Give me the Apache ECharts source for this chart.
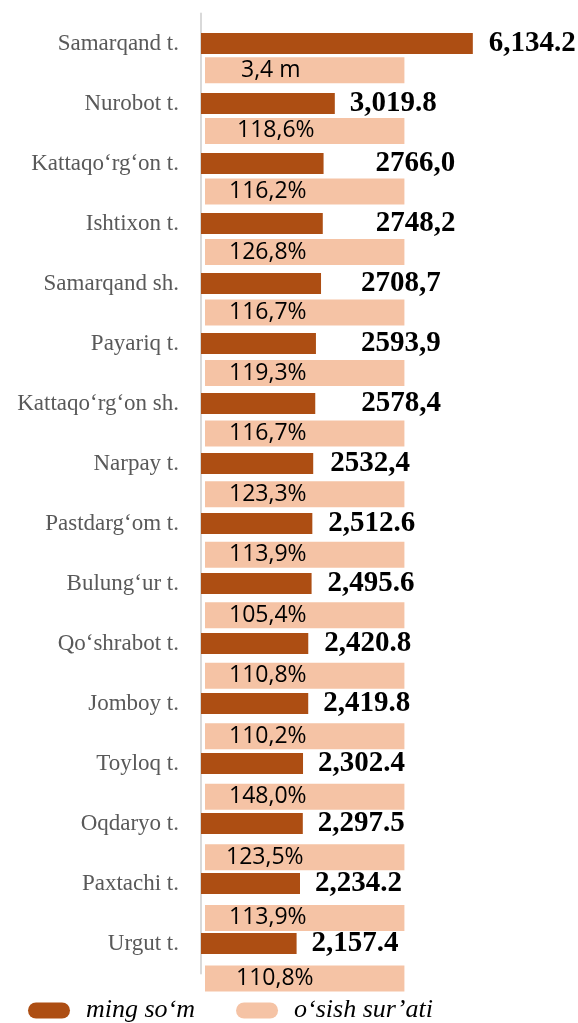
<!DOCTYPE html>
<html>
<head>
<meta charset="utf-8">
<script src="https://cdn.jsdelivr.net/npm/echarts@6/dist/echarts.min.js"></script>
<style>
  html, body { margin: 0; padding: 0; background: #fff; }
  #chart { width: 578px; height: 1023px; }
</style>
</head>
<body>
<div id="chart"></div>
<script>
const districts = [
  'Samarqand t.', 'Nurobot t.', 'Kattaqo‘rg‘on t.', 'Ishtixon t.', 'Samarqand sh.',
  'Payariq t.', 'Kattaqo‘rg‘on sh.', 'Narpay t.', 'Pastdarg‘om t.', 'Bulung‘ur t.',
  'Qo‘shrabot t.', 'Jomboy t.', 'Toyloq t.', 'Oqdaryo t.', 'Paxtachi t.', 'Urgut t.'
]
// ming so'm
const volume = [6134.2, 3019.8, 2766.0, 2748.2, 2708.7, 2593.9, 2578.4, 2532.4,
  2512.6, 2495.6, 2420.8, 2419.8, 2302.4, 2297.5, 2234.2, 2157.4]
const volumeText = ['6,134.2', '3,019.8', '2766,0', '2748,2', '2708,7', '2593,9', '2578,4', '2532,4',
  '2,512.6', '2,495.6', '2,420.8', '2,419.8', '2,302.4', '2,297.5', '2,234.2', '2,157.4']
// o'sish sur'ati (drawn as equal-length helper bars)
const rateBar = [4500, 4500, 4500, 4500, 4500, 4500, 4500, 4500,
  4500, 4500, 4500, 4500, 4500, 4500, 4500, 4500]
const rateText = ['3,4 m', '118,6%', '116,2%', '126,8%', '116,7%', '119,3%', '116,7%', '123,3%',
  '113,9%', '105,4%', '110,8%', '110,2%', '148,0%', '123,5%', '113,9%', '110,8%']

// label nudges, as placed in the original
const volumeGap = [16, 15, 52, 53, 40, 45, 46, 17, 16, 16, 16, 15, 15, 15, 15, 15]
const rateGap = [36, 32, 24, 24, 24, 24, 24, 24, 24, 24, 24, 24, 24, 21, 24, 31]

const DARK = '#ad4e13'
const LIGHT = '#f5c3a5'
const pill = 'path://M8,0 L34,0 A8,8 0 0 1 34,16 L8,16 A8,8 0 0 1 8,0 Z'

const chart = echarts.init(document.getElementById('chart'))

chart.setOption({
  animation: false,
  legend: {
    left: 23,
    top: 992.5,
    itemWidth: 42,
    itemHeight: 16,
    itemGap: 41,
    data: [
      { name: 'ming so‘m', icon: pill },
      { name: 'o‘sish sur’ati', icon: pill }
    ],
    textStyle: {
      fontFamily: 'Liberation Serif',
      fontStyle: 'italic',
      fontSize: 26,
      color: '#000',
      padding: [0, 0, 0, 11]
    }
  },
  grid: [
    { left: 201, top: 13.5, width: 354.5, height: 960 },
    { left: 205, top: 40.1, width: 354.5, height: 968.6 }
  ],
  xAxis: [
    { type: 'value', gridIndex: 0, min: 0, max: 8000, show: false },
    { type: 'value', gridIndex: 1, min: 0, max: 8000, show: false }
  ],
  yAxis: [
    {
      type: 'category',
      gridIndex: 0,
      data: districts,
      inverse: true,
      axisTick: { show: false },
      axisLine: { lineStyle: { color: '#d9d9d9', width: 2 } },
      axisLabel: {
        fontFamily: 'Liberation Serif',
        fontSize: 23,
        color: '#595959',
        margin: 22
      }
    },
    {
      type: 'category',
      gridIndex: 1,
      data: districts,
      inverse: true,
      show: false
    }
  ],
  series: [
    {
      name: 'ming so‘m',
      type: 'bar',
      xAxisIndex: 0,
      yAxisIndex: 0,
      barWidth: 21,
      itemStyle: { color: DARK },
      data: volume.map((v, i) => ({ value: v, label: { distance: volumeGap[i] } })),
      label: {
        show: true,
        position: 'right',
        formatter: p => volumeText[p.dataIndex],
        fontFamily: 'Liberation Serif',
        fontWeight: 'bold',
        fontSize: 29,
        color: '#000'
      }
    },
    {
      name: 'o‘sish sur’ati',
      type: 'bar',
      xAxisIndex: 1,
      yAxisIndex: 1,
      barWidth: 26,
      itemStyle: { color: LIGHT },
      data: rateBar.map((v, i) => ({ value: v, label: { distance: rateGap[i] } })),
      label: {
        show: true,
        position: 'insideLeft',
        formatter: p => rateText[p.dataIndex],
        fontFamily: 'Open Sans',
        fontSize: 23,
        color: '#000'
      }
    }
  ]
})
</script>
</body>
</html>
